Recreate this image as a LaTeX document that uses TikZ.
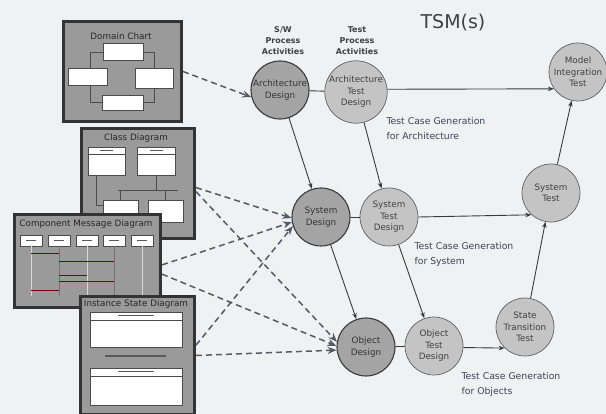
\documentclass[tikz,border=0pt]{standalone}
\usepackage{fontspec}
\setmainfont{DejaVu Sans}
\usetikzlibrary{arrows.meta}
\definecolor{bgc}{HTML}{F0F1F3}
\definecolor{swfill}{HTML}{A4A4A4}
\definecolor{tfill}{HTML}{C4C4C4}
\definecolor{dashc}{HTML}{555B66}
\definecolor{linec}{HTML}{3A3A3A}
\definecolor{capc}{HTML}{38445A}
\definecolor{thumbfill}{HTML}{9A9A9A}
\definecolor{thumbdraw}{HTML}{333333}
\begin{document}
\begin{tikzpicture}[x=1pt,y=-1pt,
  swc/.style={circle,draw=linec,line width=1.1pt,fill=swfill,minimum size=58pt,inner sep=0pt,align=center,
    font=\fontsize{8.8}{11.5}\selectfont,text=black!80},
  tstc/.style={circle,draw=gray!75!black,line width=0.7pt,fill=tfill,minimum size=58pt,inner sep=0pt,align=center,
    font=\fontsize{8.8}{11.5}\selectfont,text=black!75},
  flow/.style={draw=linec,line width=0.9pt,-{Stealth[length=6pt,width=4.5pt]}},
  plainlink/.style={draw=linec,line width=0.9pt},
  dashlink/.style={draw=dashc,line width=1.5pt,dash pattern=on 6pt off 4pt,-{Stealth[length=9pt,width=7pt]}},
  thumb/.style={draw=thumbdraw,line width=3pt,fill=thumbfill},
  wbox/.style={draw=black!70,line width=0.6pt,fill=white},
  thtitle/.style={font=\fontsize{8.8}{10}\selectfont,text=black!85},
  capt/.style={font=\fontsize{9.3}{14.5}\selectfont,text=capc,align=left,anchor=north west},
  colhead/.style={font=\bfseries\fontsize{8}{11}\selectfont,text=black!75,align=center},
  bar/.style={draw=black!65,line width=1pt}
]
\useasboundingbox (0,0) rectangle (606,414);
\fill[bgc] (0,0) rectangle (606,414);

% ---------- thumbnails ----------
% Domain Chart
\node[thumb,minimum width=118pt,minimum height=100pt,anchor=north west] (dc) at (62,20) {};
\node[thtitle] (dct) at (121,36) {Domain Chart};
\draw[wbox] (103,43) rectangle (143,60);
\draw[wbox] (68,68) rectangle (107,85);
\draw[wbox] (135,68) rectangle (173,88);
\draw[wbox] (102,95) rectangle (143,110);
\draw[black!70,line width=0.6pt] (90,68)--(90,52)--(103,52) (154,68)--(154,52)--(143,52)
  (90,85)--(90,102)--(102,102) (154,88)--(154,102)--(143,102);

% Class Diagram
\node[thumb,minimum width=113pt,minimum height=110pt,anchor=north west] (cd) at (80,127) {};
\node[thtitle] (cdt) at (136,138) {Class Diagram};
\draw[wbox] (88,147) rectangle (125,175);
\draw[wbox] (137,147) rectangle (175,175);
\draw[black!70,line width=0.5pt] (88,154)--(125,154) (137,154)--(175,154);
\draw[bar] (100,151)--(113,151) (150,151)--(163,151);
\draw[wbox] (103,200) rectangle (138,218);
\draw[wbox] (148,200) rectangle (183,222);
\draw[black!70,line width=0.6pt] (156,175)--(156,190) (118,190)--(178,190) (120,190)--(120,200) (165,190)--(165,200) (96,175)--(96,205)--(103,205);

% Message Diagram
\node[thumb,minimum width=146pt,minimum height=93pt,anchor=north west] (md) at (13,213) {};
\node[thtitle] (mdt) at (86,224) {Component Message Diagram};
\foreach \x in {20,48,76,103,131}{
  \draw[wbox] (\x,235) rectangle ++(22,11);
  \draw[bar,line width=0.8pt] (\x+6,240.5)--(\x+16,240.5);
}
\draw[white!85!black,line width=0.8pt] (31,246)--(31,296) (87,246)--(87,296) (142,246)--(142,296);
\draw[black!55,line width=0.5pt] (59,246)--(59,296) (114,246)--(114,296);
\draw[red!45!black,line width=1pt] (31,254)--(59,254) (59,262)--(114,262) (59,276)--(87,276) (59,282)--(114,282) (31,291)--(59,291);

% State Diagram
\node[thumb,minimum width=114pt,minimum height=118pt,anchor=north west] (sc) at (79,295) {};
\node[thtitle] (sct) at (136,304) {Instance State Diagram};
\draw[wbox] (90,312) rectangle (182,347);
\draw[black!70,line width=0.5pt] (90,320)--(182,320);
\draw[bar] (118,316)--(154,316);
\draw[bar,line width=1.6pt] (105,356)--(166,356);
\draw[wbox] (90,368) rectangle (182,405);
\draw[black!70,line width=0.5pt] (90,376)--(182,376);
\draw[bar] (118,372)--(154,372);

% ---------- column heads and title ----------
\node[colhead] (swh) at (283,41) {S/W\\Process\\Activities};
\node[colhead] (tph) at (357,41) {Test\\Process\\Activities};
\node[font=\fontsize{19}{22}\selectfont,text=black!75] (ttl) at (453,23) {TSM(s)};

% ---------- circles ----------
\node[swc] (ad) at (280,90) {Architecture\\Design};
\node[tstc] (atd) at (356,92) {Architecture\\Test\\Design};
\node[tstc] (mit) at (578,72) {Model\\Integration\\Test};
\node[swc] (sd) at (321,217) {System\\Design};
\node[tstc] (std) at (389,217) {System\\Test\\Design};
\node[tstc] (st) at (551,193) {System\\Test};
\node[swc] (od) at (366,347) {Object\\Design};
\node[tstc] (otd) at (434,346) {Object\\Test\\Design};
\node[tstc] (stt) at (525,327) {State\\Transition\\Test};

% ---------- captions ----------
\node[capt] (c1) at (383,114) {Test Case Generation\\for Architecture};
\node[capt] (c2) at (411,239) {Test Case Generation\\for System};
\node[capt] (c3) at (458,369) {Test Case Generation\\for Objects};

% ---------- solid connectors ----------
\draw[plainlink] (ad) -- (atd);
\draw[plainlink] (sd) -- (std);
\draw[plainlink] (od) -- (otd);
\draw[flow] (ad) -- (sd);
\draw[flow] (atd) -- (std);
\draw[flow] (sd) -- (od);
\draw[flow] (std) -- (otd);
\draw[flow] (atd.5) -- (mit.215);
\draw[flow] (std.0) -- (st.228);
\draw[flow] (otd.-3) -- (stt.226);
\draw[flow] (stt) -- (st);
\draw[flow] (st) -- (mit);

% ---------- dashed connectors ----------
\draw[dashlink] (dc.east) -- (ad.194);
\draw[dashlink] (cd.-4) -- (sd.182);
\draw[dashlink] (cd.-8) -- (od.170);
\draw[dashlink] (md.-3) -- (sd.190);
\draw[dashlink] (md.-10) -- (od.178);
\draw[dashlink] (sc.10) -- (sd.198);
\draw[dashlink] (sc.east) -- (od.186);
\end{tikzpicture}
\end{document}
